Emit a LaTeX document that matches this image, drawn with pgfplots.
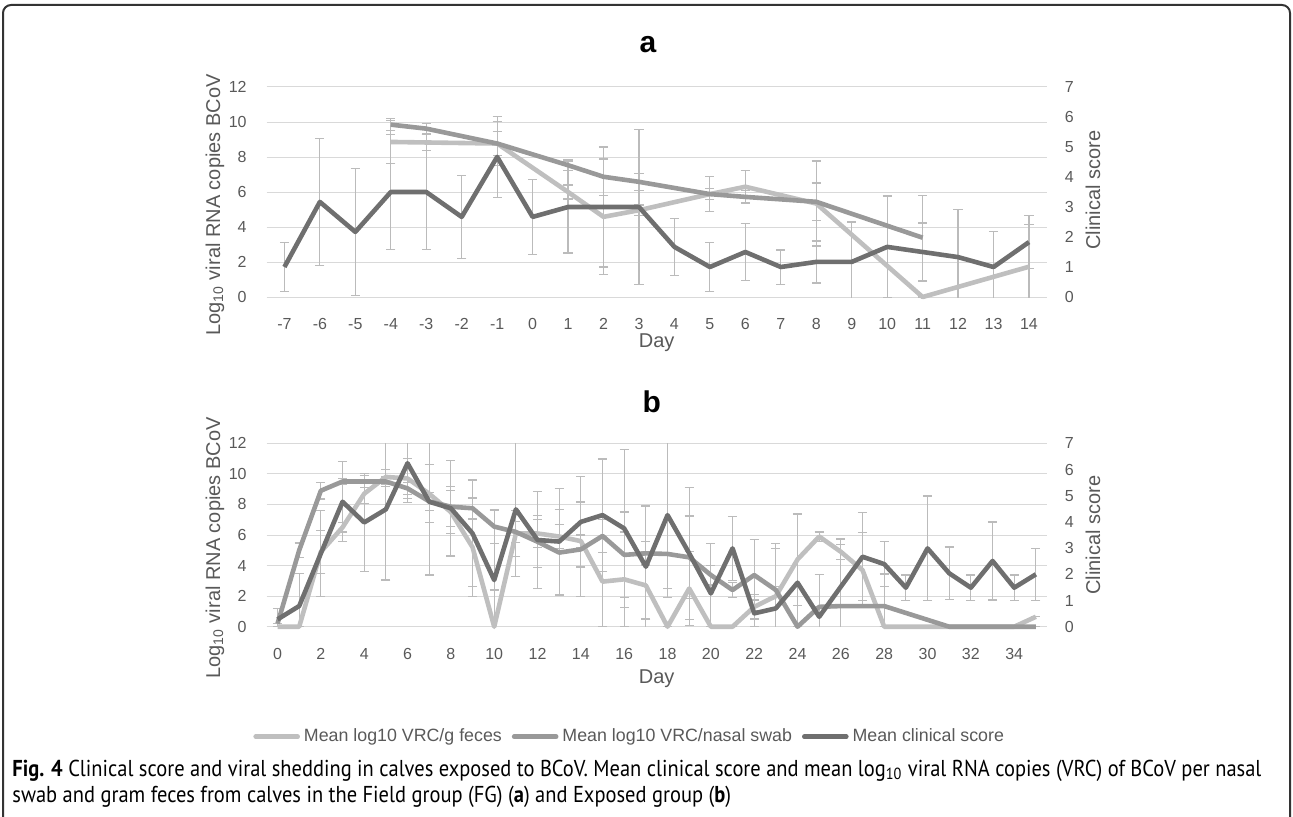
\documentclass[border=0pt]{standalone}
\usepackage{pgfplots}
\pgfplotsset{compat=1.18}
\usepackage{pgfplotstable}
\usepackage{fontspec}
\setmainfont{Liberation Sans}
\newfontfamily\capfont[FakeStretch=0.89]{PT Sans}

\definecolor{feccol}{HTML}{BFBFBF}
\definecolor{nascol}{HTML}{999999}
\definecolor{clicol}{HTML}{6F6F6F}
\definecolor{errgray}{HTML}{BBBBBB}
\definecolor{gridgray}{HTML}{D9D9D9}
\definecolor{tickgray}{HTML}{595959}

% panel a: field group
\pgfplotstableread{
d v e
-4 8.86 1.24
-3 8.83 0.45
-1 8.77 0.70
1 6.00 0.40
2 4.58 3.30
3 4.96 0.30
5 5.88 0.30
6 6.30 0.92
8 5.34 2.43
11 0.00 0.00
14 1.73 2.42
}\fecA
\pgfplotstableread{
d v e
-4 9.85 0.34
-3 9.62 0.29
-1 8.77 1.24
1 7.53 0.30
2 6.87 1.05
3 6.58 0.50
5 5.88 1.00
6 5.72 0.35
8 5.44 1.08
11 3.39 2.43
}\nasA
\pgfplotstableread{
d v e
-7 1.00 0.82
-6 3.17 2.11
-5 2.17 2.12
-4 3.50 1.91
-3 3.50 1.91
-2 2.67 1.38
-1 4.67 1.36
0 2.67 1.24
1 3.00 1.53
2 3.00 2.00
3 3.00 2.58
4 1.67 0.94
5 1.00 0.82
6 1.50 0.95
7 1.00 0.57
8 1.17 0.70
9 1.17 1.33
10 1.67 1.70
11 1.50 0.97
12 1.33 1.58
13 1.00 1.18
14 1.83 0.89
}\cliA

% panel b: exposed group
\pgfplotstableread{
d v e
0 0.00 0.00
1 0.00 0.00
2 4.90 1.40
3 6.50 0.30
4 8.70 0.65
5 9.80 0.50
6 9.70 1.30
7 8.70 1.90
8 7.50 1.40
9 5.20 3.20
10 0.00 2.40
11 6.10 1.50
12 6.10 0.90
13 5.90 0.80
14 5.60 0.40
15 2.95 2.95
16 3.10 3.10
17 2.70 2.20
18 0.00 0.00
19 2.50 2.40
20 0.00 0.00
21 0.00 0.00
22 1.30 0.80
23 2.00 3.10
24 4.40 3.00
25 5.90 0.30
26 4.90 0.50
27 3.70 2.45
28 0.00 0.00
29 0.00 0.00
30 0.00 0.00
31 0.00 0.00
32 0.00 0.00
33 0.00 0.00
34 0.00 0.00
35 0.65 0.00
}\fecB
\pgfplotstableread{
d v e
0 0.20 0.00
1 5.00 0.48
2 8.90 0.55
3 9.50 0.20
4 9.50 0.40
5 9.50 0.30
6 9.05 0.40
7 8.20 0.60
8 7.85 1.30
9 7.75 0.70
10 6.55 1.10
11 6.20 0.70
12 5.56 1.70
13 4.85 2.80
14 5.06 3.10
15 5.94 1.10
16 4.70 2.80
17 4.80 0.76
18 4.76 2.25
19 4.54 2.70
20 3.38 0.65
21 2.40 0.50
22 3.38 2.35
23 2.40 3.05
24 0.00 0.00
25 1.30 0.00
26 1.35 0.00
27 1.35 0.00
28 1.35 2.10
29 0.90 0.00
30 0.45 0.00
31 0.00 0.00
32 0.00 0.00
33 0.00 0.00
34 0.00 0.00
35 0.00 0.00
}\nasB
\pgfplotstableread{
d v e
0 0.28 0.42
1 0.79 1.25
2 2.80 1.65
3 4.77 1.53
4 3.98 1.86
5 4.48 2.70
6 6.24 1.50
7 4.77 2.80
8 4.52 1.82
9 3.56 2.04
10 1.78 2.65
11 4.48 2.57
12 3.31 1.85
13 3.25 2.04
14 4.00 1.72
15 4.26 2.14
16 3.75 3.02
17 2.29 2.32
18 4.26 3.15
19 2.80 2.52
20 1.27 1.91
21 2.99 1.23
22 0.51 0.51
23 0.70 0.83
24 1.68 2.62
25 0.38 1.60
26 1.53 1.82
27 2.67 1.68
28 2.39 0.85
29 1.49 0.48
30 2.99 2.00
31 2.04 1.00
32 1.49 0.48
33 2.51 1.49
34 1.49 0.48
35 2.00 1.00
}\cliB

\pgfplotsset{
  chartbase/.style={scale only axis, width=390pt, ymin=0,
    axis line style={draw=none}, tick style={draw=none}, major tick length=0pt,
    tick label style={font=\fontsize{8}{9.6}\selectfont, text=tickgray},
    /pgf/number format/assume math mode=true},
  leftax/.style={chartbase, ymax=12, ytick={0,2,...,12},
    ymajorgrids, grid style={draw=gridgray, line width=0.5pt},
    yticklabel style={xshift=-6.5pt}, xticklabel style={yshift=-7.3pt}},
  rightax/.style={chartbase, ymax=7, ytick={0,...,7}, yticklabel pos=right,
    yticklabel style={xshift=5.5pt}, xtick=\empty},
  hidden/.style={chartbase, hide axis, clip=false},
  errb/.style={draw=none, mark=none, forget plot,
    error bars/.cd, y dir=both, y explicit,
    error bar style={draw=errgray, line width=0.6pt},
    error mark options={rotate=90, mark size=2.3pt, draw=errgray, line width=0.6pt}},
  fecline/.style={feccol, line width=2.3pt, line join=round, mark=none},
  nasline/.style={nascol, line width=2.3pt, line join=round, mark=none},
  cliline/.style={clicol, line width=2.3pt, line join=round, mark=none},
}

\begin{document}
\begin{tikzpicture}
\useasboundingbox (0pt,0pt) rectangle (646.5pt,408pt);
\draw[line width=1pt, draw=black!80, rounded corners=4pt]
  (1.5pt,-20pt) -- (1.5pt,405.5pt) -- (645pt,405.5pt) -- (645pt,-20pt);

% ---------- panel a ----------
\begin{axis}[leftax, at={(133.35pt,259.5pt)}, anchor=south west, height=105pt,
  xmin=-7.5, xmax=14.5, xtick={-7,...,14}]
\addplot[errb] table[x=d, y=v, y error=e] {\fecA};
\addplot[errb] table[x=d, y=v, y error=e] {\nasA};
\end{axis}
\begin{axis}[rightax, at={(133.35pt,259.5pt)}, anchor=south west, height=105pt,
  xmin=-7.5, xmax=14.5]
\addplot[errb] table[x=d, y=v, y error=e] {\cliA};
\end{axis}
\begin{axis}[hidden, at={(133.35pt,259.5pt)}, anchor=south west, height=105pt,
  xmin=-7.5, xmax=14.5, ymax=12]
\addplot[fecline] table[x=d, y=v] {\fecA};
\addplot[nasline] table[x=d, y=v] {\nasA};
\end{axis}
\begin{axis}[hidden, at={(133.35pt,259.5pt)}, anchor=south west, height=105pt,
  xmin=-7.5, xmax=14.5, ymax=7]
\addplot[cliline] table[x=d, y=v] {\cliA};
\end{axis}

% ---------- panel b ----------
\begin{axis}[leftax, at={(133.35pt,94.65pt)}, anchor=south west, height=91.7pt,
  xmin=-0.5, xmax=35.5, xtick={0,2,...,34}]
\addplot[errb] table[x=d, y=v, y error=e] {\fecB};
\addplot[errb] table[x=d, y=v, y error=e] {\nasB};
\end{axis}
\begin{axis}[rightax, at={(133.35pt,94.65pt)}, anchor=south west, height=91.7pt,
  xmin=-0.5, xmax=35.5]
\addplot[errb] table[x=d, y=v, y error=e] {\cliB};
\end{axis}
\begin{axis}[hidden, at={(133.35pt,94.65pt)}, anchor=south west, height=91.7pt,
  xmin=-0.5, xmax=35.5, ymax=12]
\addplot[fecline] table[x=d, y=v] {\fecB};
\addplot[nasline] table[x=d, y=v] {\nasB};
\end{axis}
\begin{axis}[hidden, at={(133.35pt,94.65pt)}, anchor=south west, height=91.7pt,
  xmin=-0.5, xmax=35.5, ymax=7,
  legend style={at={(-0.0176,-0.600)}, anchor=west, draw=none, fill=none,
    inner sep=0pt, font=\fontsize{8.9}{10.7}\selectfont, text=tickgray,
    /tikz/every even column/.append style={column sep=3pt}},
  legend columns=3, legend cell align=left,
  legend image code/.code={\draw[#1, line cap=round] (0pt,0pt) -- (21pt,0pt);}]
\addlegendimage{fecline}
\addlegendentry{Mean log10 VRC/g feces}
\addlegendimage{nasline}
\addlegendentry{Mean log10 VRC/nasal swab}
\addplot[cliline] table[x=d, y=v] {\cliB};
\addlegendentry{Mean clinical score}
\end{axis}

% titles and axis titles
\node[anchor=base, font=\fontsize{15}{18}\selectfont\bfseries] at (324pt,381.5pt) {a};
\node[anchor=base, font=\fontsize{15}{18}\selectfont\bfseries] at (325.85pt,202pt) {b};
\begin{scope}[every node/.style={font=\fontsize{10}{12}\selectfont, text=tickgray}]
\node[rotate=90] at (107.5pt,305.5pt) {Log\textsubscript{10} viral RNA copies BCoV};
\node[rotate=90] at (107.5pt,134pt) {Log\textsubscript{10} viral RNA copies BCoV};
\node[rotate=90] at (546.5pt,313pt) {Clinical score};
\node[rotate=90] at (546.5pt,140.5pt) {Clinical score};
\node at (328.35pt,236.5pt) {Day};
\node at (328.35pt,68.5pt) {Day};
\end{scope}

% caption
\node[anchor=base west, inner sep=0pt, font=\capfont\fontsize{11.5}{14}\selectfont] at (6pt,20pt)
  {\textbf{Fig. 4} Clinical score and viral shedding in calves exposed to BCoV. Mean clinical score and mean log\textsubscript{10} viral RNA copies (VRC) of BCoV per nasal};
\node[anchor=base west, inner sep=0pt, font=\capfont\fontsize{11.5}{14}\selectfont] at (6pt,7pt)
  {swab and gram feces from calves in the Field group (FG) (\textbf{a}) and Exposed group (\textbf{b})};
\end{tikzpicture}
\end{document}
